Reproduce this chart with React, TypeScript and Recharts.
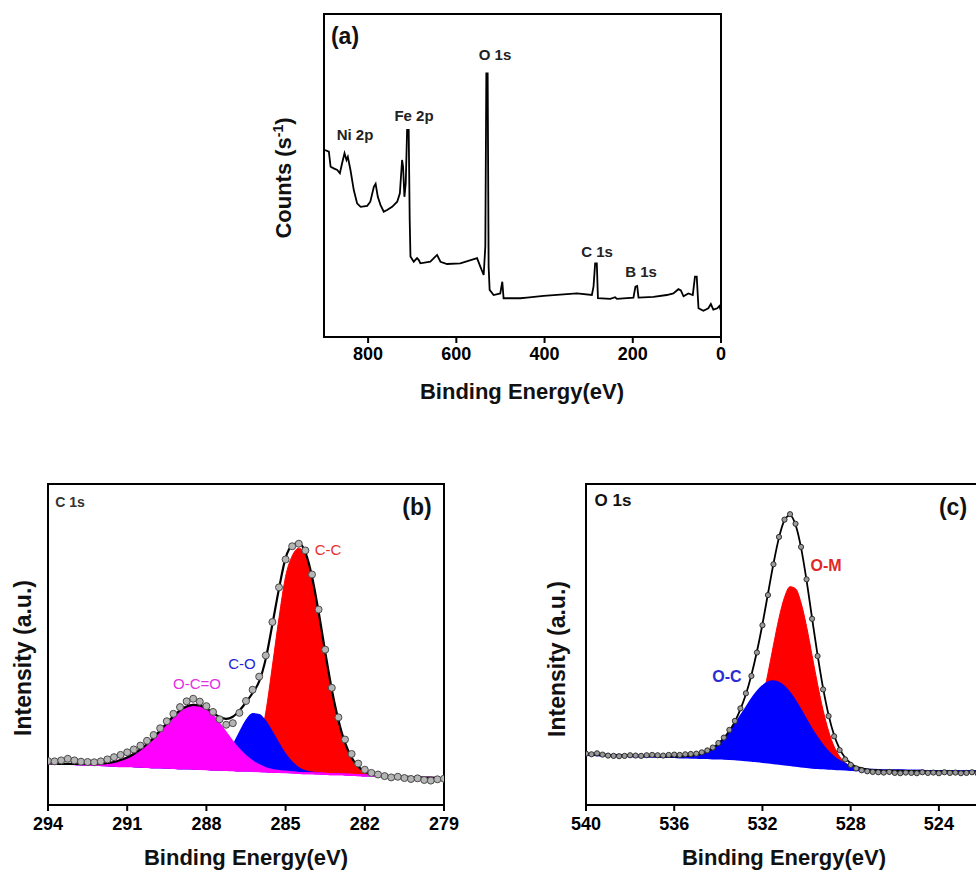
import { Area, ComposedChart, Line, ReferenceArea, XAxis, YAxis } from 'recharts';
import type { ReactNode } from 'react';

const FONT = '"Liberation Sans", Arial, sans-serif';

// (a) survey scan: binding energy (eV) and counts (arbitrary units, 0-100)
const surveyEnergy = [
  898, 889, 885, 878, 870, 864, 859, 853.5, 849, 846, 840, 832.5, 825, 817, 802, 795, 787, 783, 778, 772,
  764.5, 757, 745.5, 734, 728, 723, 720.7, 717.7, 714.7, 711.6, 708, 705.7, 704, 696.6, 689, 685, 681.5, 659,
  643.7, 636, 621, 591, 553, 545.6, 538, 534.3, 532, 529, 526.8, 524.5, 515.5, 500.4, 495.8, 492.9, 455, 440,
  402, 364.5, 326.7, 292.7, 289, 285.3, 281.5, 279, 251, 240, 236, 198.5, 194, 190, 187, 153, 123, 108, 96.6,
  91, 85, 74, 64, 59, 55, 51, 40, 28.7, 23, 17.4, 8.4, 3.8, 0,
];
const surveyCounts = [
  57.9, 57.4, 52.7, 52.2, 51.7, 50.7, 53.8, 56.9, 54.8, 55.8, 51.7, 45.5, 41.4, 40.3, 40.6, 41.9, 46.5, 47.4, 43.4, 40.9,
  38.8, 39.3, 40.3, 41.9, 44.5, 54.8, 52.7, 43.4, 47.6, 64.1, 64.1, 36.2, 24.9, 23.3, 24.4, 23.8, 22.8, 23.3,
  25.4, 23.3, 22.6, 22.8, 24.4, 21.8, 19.2, 28.0, 81.6, 81.6, 21.8, 14.6, 13.0, 13.5, 17.1, 12.0, 12.0, 12.2,
  12.7, 13.1, 13.5, 13.0, 15.6, 22.8, 22.8, 12.0, 11.8, 12.3, 11.8, 12.2, 15.6, 15.8, 12.2, 12.4, 13.0, 13.5, 14.8,
  14.4, 12.6, 13.5, 13.0, 18.7, 18.7, 8.9, 8.1, 8.9, 10.2, 8.5, 8.9, 9.6, 8.1,
];
const surveyTicks = [800, 600, 400, 200, 0];

// (b) C 1s region
const c1sEnergy = [
  294, 293.75, 293.5, 293.25, 293, 292.75, 292.5, 292.25, 292, 291.75, 291.5, 291.25, 291, 290.75, 290.5, 290.25,
  290, 289.75, 289.5, 289.25, 289, 288.75, 288.5, 288.25, 288, 287.75, 287.5, 287.25, 287, 286.75, 286.5, 286.25,
  286, 285.75, 285.5, 285.25, 285, 284.75, 284.5, 284.25, 284, 283.75, 283.5, 283.25, 283, 282.75, 282.5, 282.25,
  282, 281.75, 281.5, 281.25, 281, 280.75, 280.5, 280.25, 280, 279.75, 279.5, 279.25, 279,
];
const c1sBackground = [
  13.0, 12.9, 12.8, 12.8, 12.7, 12.6, 12.5, 12.5, 12.4, 12.3, 12.2, 12.1, 12.1, 12.0, 11.9, 11.8,
  11.7, 11.7, 11.6, 11.5, 11.4, 11.4, 11.3, 11.2, 11.1, 11.0, 11.0, 10.9, 10.8, 10.7, 10.7, 10.6,
  10.5, 10.4, 10.3, 10.3, 10.2, 10.1, 10.0, 9.9, 9.9, 9.8, 9.7, 9.6, 9.6, 9.5, 9.4, 9.3,
  9.2, 9.2, 9.1, 9.0, 8.9, 8.8, 8.8, 8.7, 8.6, 8.5, 8.5, 8.4, 8.3,
];
const c1sOCO = [
  0, 0, 0, 0, 0.1, 0.2, 0.3, 0.4, 0.5, 0.8, 1.2, 1.9, 2.7, 3.9, 5.4, 7.2,
  9.2, 11.5, 13.9, 16.1, 18.1, 19.3, 19.9, 19.8, 18.7, 16.8, 14.3, 11.6, 8.9, 6.5, 4.5, 3.0,
  1.9, 1.1, 0.6, 0.3, 0.2, 0.1, 0, 0, 0, 0, 0, 0, 0, 0, 0, 0,
  0, 0, 0, 0, 0, 0, 0, 0, 0, 0, 0, 0, 0,
];
const c1sCO = [
  0, 0, 0, 0, 0, 0, 0, 0, 0, 0, 0, 0, 0, 0, 0, 0,
  0, 0, 0, 0, 0, 0, 0, 0, 0.3, 0.9, 2.1, 4.3, 7.7, 11.8, 15.6, 17.8,
  17.6, 15.6, 12.4, 8.8, 5.6, 3.2, 1.6, 0.7, 0.3, 0.1, 0, 0, 0, 0, 0, 0,
  0, 0, 0, 0, 0, 0, 0, 0, 0, 0, 0, 0, 0,
];
const c1sCC = [
  0, 0, 0, 0, 0, 0, 0, 0, 0, 0, 0, 0, 0, 0, 0, 0,
  0, 0, 0, 0, 0, 0, 0, 0, 0, 0, 0, 0, 0.1, 0.4, 1.2, 3.5,
  8.5, 18.5, 33.0, 48.0, 61.0, 67.5, 70.0, 68.1, 61.0, 50.3, 38.0, 26.4, 16.9, 9.9, 5.4, 2.7,
  1.2, 0.5, 0.2, 0.1, 0, 0, 0, 0, 0, 0, 0, 0, 0,
];
const c1sMeasured = [
  13.7, 13.6, 13.9, 14.4, 13.9, 13.5, 13.4, 13.3, 13.6, 14.2, 14.9, 15.6, 16.4, 17.3, 18.5, 20.0,
  21.8, 23.9, 26.1, 28.4, 30.5, 32.3, 33.1, 32.2, 30.8, 29.0, 26.7, 25.0, 25.5, 28.7, 32.4, 35.9,
  40.0, 46.6, 57.0, 67.8, 76.5, 80.6, 81.4, 79.3, 71.8, 60.9, 48.4, 36.5, 27.3, 20.4, 15.9, 12.9,
  11.0, 10.0, 9.5, 9.0, 8.6, 8.8, 8.4, 8.1, 8.3, 7.8, 7.6, 8.0, 8.2,
];
const c1sTicks = [294, 291, 288, 285, 282, 279];

// (c) O 1s region
const o1sEnergy = [
  540, 539.75, 539.5, 539.25, 539, 538.75, 538.5, 538.25, 538, 537.75, 537.5, 537.25, 537, 536.75, 536.5, 536.25,
  536, 535.75, 535.5, 535.25, 535, 534.75, 534.5, 534.25, 534, 533.75, 533.5, 533.25, 533, 532.75, 532.5, 532.25,
  532, 531.75, 531.5, 531.25, 531, 530.75, 530.5, 530.25, 530, 529.75, 529.5, 529.25, 529, 528.75, 528.5, 528.25,
  528, 527.75, 527.5, 527.25, 527, 526.75, 526.5, 526.25, 526, 525.75, 525.5, 525.25, 525, 524.75, 524.5, 524.25,
  524, 523.75, 523.5, 523.25, 523, 522.75, 522.5, 522.25, 522,
];
const o1sBackground = [
  15.7, 15.7, 15.6, 15.6, 15.5, 15.5, 15.4, 15.4, 15.3, 15.3, 15.2, 15.2, 15.2, 15.1, 15.1, 15.0,
  15.0, 14.9, 14.9, 14.8, 14.8, 14.7, 14.7, 14.6, 14.6, 14.5, 14.4, 14.3, 14.2, 14.0, 13.9, 13.7,
  13.5, 13.3, 13.1, 12.9, 12.7, 12.5, 12.3, 12.1, 11.9, 11.7, 11.6, 11.5, 11.4, 11.3, 11.2, 11.1,
  11.0, 10.9, 10.9, 10.8, 10.8, 10.8, 10.7, 10.7, 10.7, 10.7, 10.6, 10.6, 10.6, 10.6, 10.5, 10.5,
  10.5, 10.5, 10.5, 10.4, 10.4, 10.4, 10.4, 10.4, 10.4,
];
const o1sOC = [
  0, 0, 0, 0, 0, 0, 0, 0, 0, 0, 0, 0, 0, 0, 0, 0,
  0.1, 0.2, 0.3, 0.5, 0.8, 1.3, 2.1, 3.0, 4.4, 6.1, 8.2, 10.6, 13.3, 16.1, 18.9, 21.4,
  23.4, 24.8, 25.4, 25.1, 24.0, 22.2, 19.9, 17.2, 14.4, 11.6, 9.1, 6.9, 5.0, 3.5, 2.4, 1.6,
  1.0, 0.6, 0.4, 0.2, 0.1, 0, 0, 0, 0, 0, 0, 0, 0, 0, 0, 0,
  0, 0, 0, 0, 0, 0, 0, 0, 0,
];
const o1sOM = [
  0, 0, 0, 0, 0, 0, 0, 0, 0, 0, 0, 0, 0, 0, 0, 0,
  0, 0, 0, 0, 0, 0, 0, 0, 0.1, 0.2, 0.5, 1.1, 2.3, 4.4, 7.7, 12.7,
  19.4, 27.7, 36.7, 45.3, 52.0, 55.5, 55.1, 50.9, 43.7, 34.9, 26.0, 18.0, 11.6, 6.9, 3.9, 2.0,
  1.0, 0.4, 0.2, 0.1, 0, 0, 0, 0, 0, 0, 0, 0, 0, 0, 0, 0,
  0, 0, 0, 0, 0, 0, 0, 0, 0,
];
const o1sMeasured = [
  16.0, 15.8, 16.1, 15.7, 15.4, 15.3, 15.2, 15.3, 15.5, 15.4, 15.3, 15.5, 15.6, 15.5, 15.4, 15.6,
  15.7, 15.6, 15.8, 15.9, 16.0, 16.4, 17.0, 17.9, 19.3, 21.0, 23.4, 26.2, 30.1, 34.8, 40.2, 47.5,
  56.0, 65.4, 75.0, 83.5, 88.9, 90.6, 87.6, 80.4, 70.3, 58.0, 46.4, 36.0, 27.7, 21.4, 17.1, 14.2,
  12.5, 11.4, 10.8, 10.5, 10.3, 10.2, 10.1, 10.3, 10.0, 9.9, 10.1, 10.0, 9.9, 10.2, 10.0, 10.1,
  9.9, 10.2, 10.0, 10.1, 9.9, 10.0, 10.2, 9.9, 10.0,
];
const o1sTicks = [540, 536, 532, 528, 524];

const surveyData = surveyEnergy.map((e, i) => ({ e, counts: surveyCounts[i] }));

const c1sData = c1sEnergy.map((e, i) => {
  const bg = c1sBackground[i];
  return {
    e,
    oco: [bg, bg + c1sOCO[i]],
    co: [bg, bg + c1sCO[i]],
    cc: [bg, bg + c1sCC[i]],
    fit: bg + c1sOCO[i] + c1sCO[i] + c1sCC[i],
    raw: c1sMeasured[i],
  };
});

const o1sData = o1sEnergy.map((e, i) => {
  const bg = o1sBackground[i];
  return {
    e,
    oc: [bg, bg + o1sOC[i]],
    om: [bg, bg + o1sOM[i]],
    fit: bg + o1sOC[i] + o1sOM[i],
    raw: o1sMeasured[i],
  };
});

const tickStyle = { fill: '#000', fontSize: 18, fontWeight: 700, fontFamily: FONT };
const axisLine = { stroke: '#000', strokeWidth: 2 };

const Note = ({
  x,
  y,
  size,
  weight = 700,
  color = '#111',
  vertical = false,
  children,
}: {
  x: number;
  y: number;
  size: number;
  weight?: number;
  color?: string;
  vertical?: boolean;
  children: ReactNode;
}) => (
  <div
    style={{
      position: 'absolute',
      left: x,
      top: y,
      transform: `translate(-50%, -50%)${vertical ? ' rotate(-90deg)' : ''}`,
      fontFamily: FONT,
      fontSize: size,
      fontWeight: weight,
      color,
      lineHeight: 1,
      whiteSpace: 'nowrap',
    }}
  >
    {children}
  </div>
);

const SurveyPanel = () => (
  <div style={{ position: 'absolute', left: 0, top: 0 }}>
    <ComposedChart width={760} height={420} data={surveyData} margin={{ top: 14, left: 324, right: 39, bottom: 23 }}>
      <XAxis
        type="number"
        dataKey="e"
        domain={[0, 900]}
        reversed
        ticks={surveyTicks}
        interval={0}
        allowDataOverflow
        height={60}
        tick={tickStyle}
        tickSize={6}
        tickMargin={4}
        axisLine={axisLine}
        tickLine={axisLine}
      />
      <YAxis hide type="number" domain={[0, 100]} allowDataOverflow />
      <ReferenceArea x1={0} x2={900} y1={0} y2={100} fill="none" stroke="#000" strokeWidth={2} />
      <Line type="linear" dataKey="counts" stroke="#000" strokeWidth={1.8} dot={false} activeDot={false} isAnimationActive={false} />
    </ComposedChart>
  </div>
);

const CarbonPanel = () => (
  <div style={{ position: 'absolute', left: 0, top: 440 }}>
    <ComposedChart width={470} height={435} data={c1sData} margin={{ top: 44, left: 48, right: 26, bottom: 30 }}>
      <XAxis
        type="number"
        dataKey="e"
        domain={[279, 294]}
        reversed
        ticks={c1sTicks}
        interval={0}
        allowDataOverflow
        height={40}
        tick={tickStyle}
        tickSize={6}
        tickMargin={6}
        axisLine={axisLine}
        tickLine={axisLine}
      />
      <YAxis hide type="number" domain={[0, 100]} allowDataOverflow />
      <ReferenceArea x1={279} x2={294} y1={0} y2={100} fill="none" stroke="#000" strokeWidth={2} />
      <Area type="monotone" dataKey="cc" fill="#ff0000" fillOpacity={1} stroke="#ff0000" strokeWidth={1} isAnimationActive={false} />
      <Area type="monotone" dataKey="co" fill="#0000ff" fillOpacity={1} stroke="#0000ff" strokeWidth={1.5} isAnimationActive={false} />
      <Area type="monotone" dataKey="oco" fill="#ff00ff" fillOpacity={1} stroke="#ff00ff" strokeWidth={2} isAnimationActive={false} />
      <Line type="monotone" dataKey="fit" stroke="#000" strokeWidth={2.2} dot={false} activeDot={false} isAnimationActive={false} />
      <Line
        dataKey="raw"
        stroke="none"
        dot={{ r: 3.5, fill: '#b5b5b5', stroke: '#4a4a4a', strokeWidth: 1 }}
        activeDot={false}
        isAnimationActive={false}
      />
    </ComposedChart>
  </div>
);

const OxygenPanel = () => (
  <div style={{ position: 'absolute', left: 540, top: 440 }}>
    <ComposedChart width={480} height={435} data={o1sData} margin={{ top: 44, left: 46, right: 37, bottom: 30 }}>
      <XAxis
        type="number"
        dataKey="e"
        domain={[522, 540]}
        reversed
        ticks={o1sTicks}
        interval={0}
        allowDataOverflow
        height={40}
        tick={tickStyle}
        tickSize={6}
        tickMargin={6}
        axisLine={axisLine}
        tickLine={axisLine}
      />
      <YAxis hide type="number" domain={[0, 100]} allowDataOverflow />
      <ReferenceArea x1={522} x2={540} y1={0} y2={100} fill="none" stroke="#000" strokeWidth={2} />
      <Area type="monotone" dataKey="om" fill="#ff0000" fillOpacity={1} stroke="#ff0000" strokeWidth={1} isAnimationActive={false} />
      <Area type="monotone" dataKey="oc" fill="#0000ff" fillOpacity={1} stroke="#0000ff" strokeWidth={2.5} isAnimationActive={false} />
      <Line
        dataKey="raw"
        stroke="none"
        dot={{ r: 2.6, fill: '#9a9a9a', stroke: '#222', strokeWidth: 0.9 }}
        activeDot={false}
        isAnimationActive={false}
      />
      <Line type="monotone" dataKey="fit" stroke="#000" strokeWidth={1.8} dot={false} activeDot={false} isAnimationActive={false} />
    </ComposedChart>
  </div>
);

export default function App() {
  return (
    <div
      style={{
        position: 'absolute',
        left: 0,
        top: 0,
        width: 976,
        height: 875,
        overflow: 'hidden',
        background: '#fff',
      }}
    >
      <SurveyPanel />
      <CarbonPanel />
      <OxygenPanel />

      {/* (a) annotations */}
      <Note x={345} y={36} size={23}>(a)</Note>
      <Note x={495} y={54} size={15} color="#222">O 1s</Note>
      <Note x={414} y={115} size={15} color="#222">Fe 2p</Note>
      <Note x={355} y={134} size={15} color="#222">Ni 2p</Note>
      <Note x={597} y={251} size={15} color="#222">C 1s</Note>
      <Note x={641} y={271} size={15} color="#222">B 1s</Note>
      <Note x={522} y={392} size={22}>Binding Energy(eV)</Note>
      <Note x={283} y={178} size={22} vertical>
        Counts (s<sup style={{ fontSize: 14 }}>-1</sup>)
      </Note>

      {/* (b) annotations */}
      <Note x={70} y={502} size={14} color="#333">C 1s</Note>
      <Note x={417} y={507} size={23}>(b)</Note>
      <Note x={328} y={549} size={15} weight={400} color="#e8302c">C-C</Note>
      <Note x={242} y={663} size={15} weight={400} color="#2323d9">C-O</Note>
      <Note x={197} y={683} size={15} weight={400} color="#e52ee5">O-C=O</Note>
      <Note x={246} y={858} size={22}>Binding Energy(eV)</Note>
      <Note x={23} y={658} size={23} vertical>Intensity (a.u.)</Note>

      {/* (c) annotations */}
      <Note x={613} y={500} size={17}>O 1s</Note>
      <Note x={953} y={507} size={23}>(c)</Note>
      <Note x={826} y={566} size={16} color="#e02828">O-M</Note>
      <Note x={727} y={677} size={16} color="#2b2bd6">O-C</Note>
      <Note x={784} y={858} size={22}>Binding Energy(eV)</Note>
      <Note x={557} y={659} size={23} vertical>Intensity (a.u.)</Note>
    </div>
  );
}
